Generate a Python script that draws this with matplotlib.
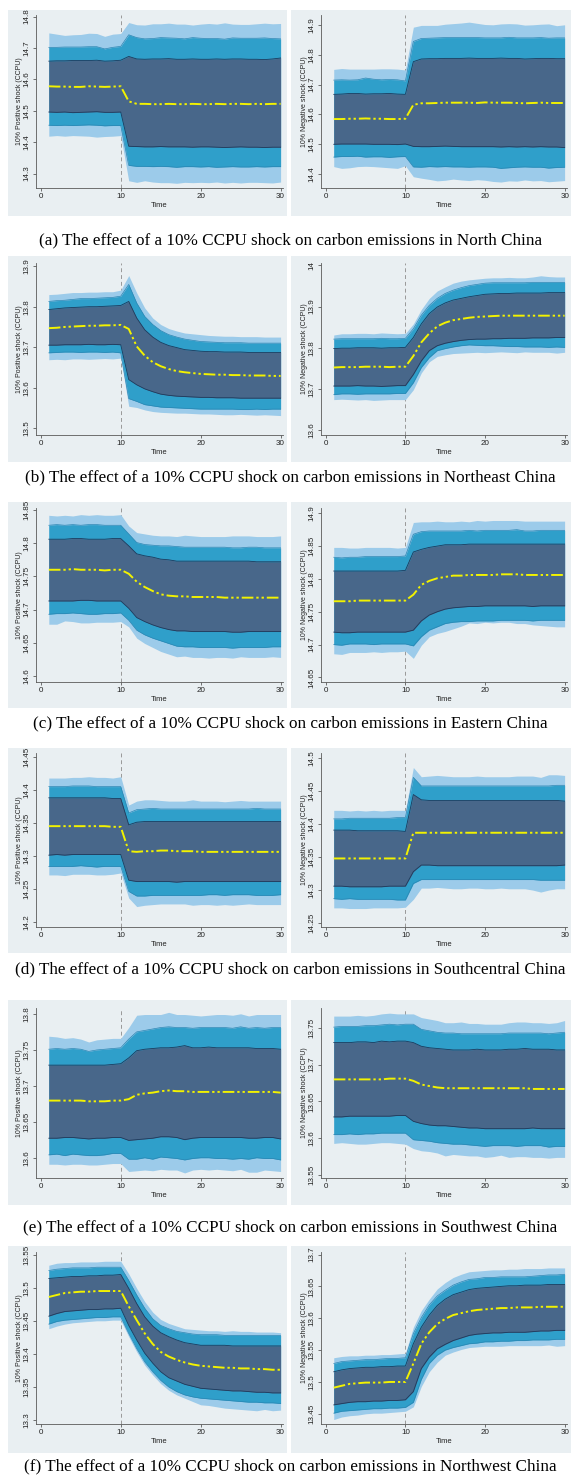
import matplotlib
matplotlib.use("Agg")
import matplotlib.pyplot as plt
from matplotlib.patches import Rectangle

plt.rcParams["font.family"] = ["Liberation Sans", "DejaVu Sans"]

W, H = 572, 1482
t = list(range(1, 31))

# ---- data: impulse responses (ln carbon emissions) ----
# bands: out = light, mid = medium, in = dark
north_pos = {
    "irf": [14.578, 14.577, 14.577, 14.576, 14.576, 14.578, 14.577, 14.576, 14.577, 14.578,
            14.530, 14.522, 14.522, 14.521, 14.521, 14.522, 14.521, 14.521, 14.522, 14.521,
            14.521, 14.522, 14.521, 14.522, 14.522, 14.521, 14.522, 14.521, 14.522, 14.522],
    "in_hi": [14.658, 14.659, 14.659, 14.660, 14.660, 14.660, 14.661, 14.658, 14.659, 14.661,
              14.673, 14.665, 14.664, 14.665, 14.665, 14.666, 14.664, 14.664, 14.665, 14.664,
              14.664, 14.665, 14.664, 14.665, 14.665, 14.664, 14.664, 14.663, 14.665, 14.668],
    "in_lo": [14.496, 14.495, 14.496, 14.494, 14.495, 14.496, 14.497, 14.495, 14.495, 14.496,
              14.387, 14.386, 14.385, 14.385, 14.386, 14.385, 14.385, 14.385, 14.384, 14.385,
              14.385, 14.384, 14.383, 14.384, 14.385, 14.384, 14.384, 14.383, 14.384, 14.384],
    "mid_hi": [14.702, 14.702, 14.703, 14.703, 14.703, 14.704, 14.704, 14.697, 14.702, 14.705,
               14.742, 14.733, 14.729, 14.730, 14.733, 14.732, 14.731, 14.729, 14.733, 14.731,
               14.730, 14.730, 14.728, 14.732, 14.731, 14.731, 14.731, 14.732, 14.730, 14.729],
    "mid_lo": [14.454, 14.453, 14.454, 14.453, 14.454, 14.455, 14.454, 14.452, 14.453, 14.453,
               14.326, 14.323, 14.323, 14.322, 14.323, 14.322, 14.320, 14.322, 14.322, 14.321,
               14.322, 14.320, 14.321, 14.322, 14.321, 14.321, 14.322, 14.321, 14.322, 14.322],
    "out_hi": [14.748, 14.744, 14.740, 14.742, 14.743, 14.747, 14.746, 14.737, 14.744, 14.746,
               14.781, 14.774, 14.773, 14.777, 14.777, 14.779, 14.776, 14.776, 14.773, 14.776,
               14.778, 14.776, 14.780, 14.776, 14.775, 14.775, 14.777, 14.779, 14.777, 14.778],
    "out_lo": [14.419, 14.421, 14.419, 14.421, 14.420, 14.419, 14.416, 14.418, 14.419, 14.421,
               14.277, 14.272, 14.277, 14.273, 14.271, 14.271, 14.269, 14.272, 14.271, 14.272,
               14.271, 14.273, 14.270, 14.272, 14.270, 14.272, 14.272, 14.271, 14.270, 14.273],
}
north_neg = {
    "irf": [14.584, 14.584, 14.585, 14.585, 14.586, 14.585, 14.585, 14.584, 14.584, 14.585,
            14.632, 14.637, 14.637, 14.638, 14.639, 14.639, 14.639, 14.639, 14.638, 14.640,
            14.639, 14.639, 14.639, 14.638, 14.637, 14.638, 14.639, 14.638, 14.638, 14.638],
    "in_hi": [14.667, 14.668, 14.670, 14.670, 14.668, 14.669, 14.669, 14.670, 14.668, 14.667,
              14.777, 14.786, 14.787, 14.787, 14.788, 14.788, 14.788, 14.789, 14.788, 14.788,
              14.788, 14.789, 14.788, 14.788, 14.786, 14.787, 14.788, 14.788, 14.787, 14.787],
    "in_lo": [14.499, 14.500, 14.500, 14.500, 14.500, 14.499, 14.499, 14.499, 14.498, 14.500,
              14.492, 14.491, 14.491, 14.492, 14.493, 14.492, 14.491, 14.491, 14.491, 14.491,
              14.491, 14.490, 14.491, 14.490, 14.491, 14.490, 14.491, 14.490, 14.490, 14.488],
    "mid_hi": [14.715, 14.716, 14.715, 14.716, 14.722, 14.718, 14.716, 14.717, 14.716, 14.712,
               14.845, 14.855, 14.856, 14.857, 14.858, 14.858, 14.858, 14.858, 14.858, 14.857,
               14.857, 14.857, 14.859, 14.857, 14.857, 14.857, 14.858, 14.856, 14.857, 14.857],
    "mid_lo": [14.456, 14.458, 14.458, 14.459, 14.456, 14.457, 14.457, 14.455, 14.457, 14.458,
               14.423, 14.422, 14.424, 14.423, 14.424, 14.423, 14.423, 14.422, 14.423, 14.423,
               14.422, 14.418, 14.420, 14.422, 14.423, 14.422, 14.422, 14.419, 14.421, 14.422],
    "out_hi": [14.751, 14.754, 14.752, 14.752, 14.752, 14.752, 14.753, 14.753, 14.752, 14.749,
               14.893, 14.899, 14.899, 14.899, 14.903, 14.905, 14.907, 14.910, 14.906, 14.902,
               14.901, 14.904, 14.905, 14.904, 14.900, 14.901, 14.903, 14.904, 14.898, 14.901],
    "out_lo": [14.424, 14.418, 14.420, 14.424, 14.425, 14.424, 14.422, 14.420, 14.418, 14.427,
               14.390, 14.385, 14.381, 14.376, 14.378, 14.382, 14.379, 14.377, 14.380, 14.378,
               14.374, 14.372, 14.376, 14.375, 14.379, 14.376, 14.377, 14.373, 14.375, 14.377],
}
northeast_pos = {
    "irf": [13.747, 13.748, 13.750, 13.751, 13.752, 13.753, 13.753, 13.754, 13.754, 13.755,
            13.745, 13.702, 13.679, 13.663, 13.653, 13.646, 13.641, 13.638, 13.636, 13.634,
            13.633, 13.632, 13.632, 13.631, 13.631, 13.630, 13.630, 13.630, 13.629, 13.629],
    "in_hi": [13.793, 13.795, 13.797, 13.798, 13.799, 13.800, 13.800, 13.801, 13.802, 13.803,
              13.813, 13.772, 13.743, 13.725, 13.712, 13.704, 13.699, 13.694, 13.692, 13.690,
              13.689, 13.689, 13.688, 13.688, 13.688, 13.687, 13.687, 13.687, 13.687, 13.687],
    "in_lo": [13.705, 13.705, 13.706, 13.706, 13.706, 13.707, 13.706, 13.706, 13.707, 13.706,
              13.620, 13.607, 13.597, 13.590, 13.584, 13.581, 13.579, 13.578, 13.577, 13.576,
              13.576, 13.575, 13.575, 13.575, 13.574, 13.574, 13.574, 13.574, 13.574, 13.574],
    "mid_hi": [13.813, 13.815, 13.816, 13.818, 13.820, 13.820, 13.821, 13.822, 13.823, 13.826,
               13.855, 13.809, 13.776, 13.756, 13.741, 13.731, 13.725, 13.720, 13.717, 13.714,
               13.713, 13.712, 13.711, 13.711, 13.711, 13.710, 13.710, 13.710, 13.710, 13.710],
    "mid_lo": [13.686, 13.687, 13.688, 13.688, 13.687, 13.688, 13.688, 13.687, 13.688, 13.686,
               13.573, 13.566, 13.558, 13.555, 13.552, 13.551, 13.550, 13.549, 13.548, 13.547,
               13.547, 13.547, 13.547, 13.547, 13.546, 13.546, 13.547, 13.546, 13.547, 13.547],
    "out_hi": [13.830, 13.831, 13.833, 13.835, 13.835, 13.836, 13.836, 13.837, 13.837, 13.841,
               13.877, 13.834, 13.797, 13.772, 13.756, 13.746, 13.740, 13.735, 13.733, 13.731,
               13.729, 13.728, 13.727, 13.727, 13.726, 13.726, 13.726, 13.725, 13.725, 13.725],
    "out_lo": [13.669, 13.670, 13.669, 13.671, 13.671, 13.670, 13.671, 13.672, 13.671, 13.673,
               13.554, 13.551, 13.545, 13.541, 13.539, 13.538, 13.537, 13.537, 13.536, 13.535,
               13.535, 13.534, 13.533, 13.533, 13.534, 13.533, 13.532, 13.533, 13.532, 13.531],
}
northeast_neg = {
    "irf": [13.752, 13.753, 13.753, 13.753, 13.754, 13.754, 13.754, 13.753, 13.754, 13.754,
            13.780, 13.813, 13.835, 13.852, 13.861, 13.867, 13.870, 13.873, 13.875, 13.876,
            13.877, 13.878, 13.878, 13.878, 13.878, 13.878, 13.878, 13.878, 13.878, 13.878],
    "in_hi": [13.798, 13.799, 13.799, 13.800, 13.800, 13.800, 13.799, 13.800, 13.800, 13.801,
              13.825, 13.858, 13.883, 13.899, 13.909, 13.916, 13.920, 13.924, 13.927, 13.930,
              13.931, 13.932, 13.932, 13.933, 13.933, 13.933, 13.933, 13.934, 13.934, 13.934],
    "in_lo": [13.707, 13.707, 13.707, 13.708, 13.707, 13.707, 13.706, 13.707, 13.708, 13.708,
              13.735, 13.768, 13.793, 13.805, 13.811, 13.815, 13.818, 13.820, 13.821, 13.821,
              13.822, 13.822, 13.823, 13.823, 13.823, 13.824, 13.824, 13.824, 13.825, 13.825],
    "mid_hi": [13.821, 13.822, 13.822, 13.822, 13.822, 13.822, 13.823, 13.822, 13.822, 13.823,
               13.846, 13.879, 13.903, 13.920, 13.932, 13.940, 13.946, 13.951, 13.954, 13.957,
               13.958, 13.958, 13.958, 13.958, 13.958, 13.959, 13.959, 13.959, 13.959, 13.959],
    "mid_lo": [13.686, 13.688, 13.688, 13.687, 13.688, 13.688, 13.688, 13.688, 13.689, 13.689,
               13.715, 13.752, 13.776, 13.793, 13.798, 13.802, 13.805, 13.807, 13.806, 13.805,
               13.805, 13.804, 13.803, 13.803, 13.802, 13.802, 13.802, 13.801, 13.802, 13.801],
    "out_hi": [13.831, 13.834, 13.834, 13.835, 13.835, 13.834, 13.836, 13.835, 13.834, 13.835,
               13.858, 13.893, 13.920, 13.938, 13.948, 13.957, 13.962, 13.965, 13.967, 13.969,
               13.970, 13.970, 13.971, 13.970, 13.970, 13.972, 13.975, 13.973, 13.972, 13.972],
    "out_lo": [13.674, 13.675, 13.674, 13.673, 13.674, 13.672, 13.673, 13.674, 13.674, 13.674,
               13.698, 13.739, 13.766, 13.779, 13.783, 13.786, 13.787, 13.788, 13.789, 13.788,
               13.789, 13.790, 13.789, 13.788, 13.790, 13.789, 13.789, 13.789, 13.787, 13.789],
}
eastern_pos = {
    "irf": [14.760, 14.760, 14.760, 14.761, 14.760, 14.760, 14.760, 14.759, 14.760, 14.760,
            14.754, 14.742, 14.734, 14.728, 14.723, 14.721, 14.720, 14.720, 14.719, 14.719,
            14.719, 14.719, 14.718, 14.718, 14.718, 14.718, 14.718, 14.718, 14.718, 14.718],
    "in_hi": [14.806, 14.806, 14.806, 14.807, 14.807, 14.806, 14.806, 14.806, 14.807, 14.807,
              14.796, 14.784, 14.781, 14.779, 14.776, 14.775, 14.773, 14.773, 14.773, 14.773,
              14.773, 14.773, 14.773, 14.773, 14.773, 14.773, 14.772, 14.772, 14.772, 14.772],
    "in_lo": [14.713, 14.713, 14.713, 14.713, 14.714, 14.714, 14.713, 14.713, 14.713, 14.713,
              14.702, 14.688, 14.682, 14.677, 14.673, 14.670, 14.668, 14.668, 14.667, 14.667,
              14.667, 14.667, 14.667, 14.666, 14.666, 14.667, 14.667, 14.667, 14.667, 14.667],
    "mid_hi": [14.827, 14.828, 14.827, 14.828, 14.827, 14.828, 14.828, 14.827, 14.827, 14.827,
               14.814, 14.801, 14.798, 14.797, 14.796, 14.796, 14.795, 14.794, 14.794, 14.794,
               14.794, 14.794, 14.794, 14.793, 14.793, 14.794, 14.794, 14.793, 14.793, 14.793],
    "mid_lo": [14.693, 14.694, 14.694, 14.695, 14.694, 14.693, 14.693, 14.694, 14.694, 14.695,
               14.684, 14.669, 14.662, 14.657, 14.653, 14.649, 14.645, 14.644, 14.644, 14.643,
               14.643, 14.643, 14.643, 14.642, 14.643, 14.643, 14.643, 14.643, 14.644, 14.644],
    "out_hi": [14.842, 14.841, 14.842, 14.841, 14.843, 14.842, 14.843, 14.842, 14.842, 14.843,
               14.826, 14.816, 14.814, 14.812, 14.811, 14.811, 14.810, 14.812, 14.811, 14.810,
               14.810, 14.810, 14.810, 14.811, 14.811, 14.811, 14.810, 14.810, 14.810, 14.811],
    "out_lo": [14.678, 14.678, 14.683, 14.682, 14.680, 14.680, 14.681, 14.681, 14.681, 14.682,
               14.674, 14.657, 14.649, 14.643, 14.637, 14.633, 14.629, 14.630, 14.628, 14.628,
               14.627, 14.628, 14.628, 14.627, 14.629, 14.628, 14.628, 14.628, 14.629, 14.628],
}
eastern_neg = {
    "irf": [14.766, 14.766, 14.766, 14.767, 14.767, 14.767, 14.767, 14.767, 14.767, 14.767,
            14.776, 14.791, 14.797, 14.801, 14.803, 14.805, 14.805, 14.806, 14.806, 14.806,
            14.806, 14.807, 14.807, 14.807, 14.806, 14.806, 14.806, 14.806, 14.806, 14.806],
    "in_hi": [14.812, 14.812, 14.812, 14.812, 14.812, 14.812, 14.812, 14.812, 14.812, 14.813,
              14.841, 14.845, 14.848, 14.850, 14.852, 14.852, 14.852, 14.853, 14.853, 14.853,
              14.853, 14.853, 14.853, 14.853, 14.853, 14.853, 14.853, 14.853, 14.853, 14.853],
    "in_lo": [14.719, 14.718, 14.718, 14.719, 14.719, 14.719, 14.719, 14.719, 14.719, 14.719,
              14.722, 14.736, 14.745, 14.750, 14.754, 14.756, 14.757, 14.758, 14.758, 14.759,
              14.759, 14.759, 14.759, 14.759, 14.759, 14.758, 14.759, 14.759, 14.759, 14.759],
    "mid_hi": [14.833, 14.832, 14.833, 14.833, 14.834, 14.834, 14.834, 14.834, 14.834, 14.835,
               14.868, 14.872, 14.873, 14.873, 14.873, 14.873, 14.873, 14.874, 14.873, 14.874,
               14.874, 14.874, 14.874, 14.875, 14.873, 14.873, 14.874, 14.874, 14.874, 14.874],
    "mid_lo": [14.700, 14.699, 14.701, 14.701, 14.701, 14.700, 14.701, 14.701, 14.701, 14.701,
               14.698, 14.712, 14.722, 14.727, 14.732, 14.734, 14.735, 14.735, 14.736, 14.736,
               14.736, 14.737, 14.737, 14.737, 14.737, 14.736, 14.737, 14.737, 14.737, 14.737],
    "out_hi": [14.848, 14.848, 14.847, 14.847, 14.848, 14.848, 14.848, 14.848, 14.847, 14.848,
               14.886, 14.887, 14.887, 14.888, 14.887, 14.887, 14.888, 14.887, 14.889, 14.888,
               14.889, 14.889, 14.889, 14.889, 14.888, 14.888, 14.888, 14.888, 14.888, 14.888],
    "out_lo": [14.686, 14.685, 14.688, 14.688, 14.688, 14.689, 14.688, 14.689, 14.689, 14.690,
               14.679, 14.699, 14.712, 14.717, 14.720, 14.724, 14.728, 14.733, 14.732, 14.734,
               14.733, 14.734, 14.734, 14.732, 14.732, 14.730, 14.729, 14.728, 14.727, 14.727],
}
southcentral_pos = {
    "irf": [14.345, 14.345, 14.345, 14.345, 14.345, 14.345, 14.345, 14.345, 14.344, 14.344,
            14.307, 14.306, 14.307, 14.307, 14.308, 14.308, 14.307, 14.307, 14.307, 14.306,
            14.306, 14.306, 14.306, 14.306, 14.306, 14.306, 14.306, 14.306, 14.306, 14.306],
    "in_hi": [14.388, 14.388, 14.388, 14.388, 14.388, 14.388, 14.388, 14.388, 14.387, 14.387,
              14.347, 14.351, 14.352, 14.352, 14.352, 14.352, 14.352, 14.352, 14.352, 14.352,
              14.352, 14.352, 14.352, 14.352, 14.352, 14.352, 14.352, 14.352, 14.352, 14.352],
    "in_lo": [14.301, 14.302, 14.301, 14.302, 14.302, 14.302, 14.302, 14.302, 14.302, 14.302,
              14.263, 14.261, 14.261, 14.261, 14.261, 14.261, 14.260, 14.261, 14.261, 14.261,
              14.261, 14.261, 14.261, 14.261, 14.261, 14.261, 14.261, 14.261, 14.261, 14.261],
    "mid_hi": [14.405, 14.405, 14.405, 14.406, 14.406, 14.406, 14.405, 14.405, 14.405, 14.405,
               14.365, 14.370, 14.371, 14.372, 14.371, 14.371, 14.371, 14.371, 14.371, 14.371,
               14.371, 14.371, 14.371, 14.371, 14.371, 14.371, 14.372, 14.371, 14.371, 14.371],
    "mid_lo": [14.284, 14.284, 14.284, 14.284, 14.285, 14.284, 14.283, 14.284, 14.284, 14.284,
               14.246, 14.239, 14.239, 14.240, 14.240, 14.240, 14.240, 14.240, 14.240, 14.240,
               14.241, 14.241, 14.240, 14.241, 14.241, 14.241, 14.240, 14.240, 14.240, 14.241],
    "out_hi": [14.418, 14.418, 14.418, 14.419, 14.419, 14.420, 14.419, 14.419, 14.418, 14.420,
               14.377, 14.383, 14.385, 14.385, 14.384, 14.383, 14.383, 14.383, 14.385, 14.383,
               14.383, 14.383, 14.382, 14.383, 14.384, 14.383, 14.383, 14.383, 14.383, 14.383],
    "out_lo": [14.271, 14.271, 14.270, 14.272, 14.272, 14.272, 14.271, 14.271, 14.272, 14.274,
               14.236, 14.223, 14.225, 14.226, 14.227, 14.227, 14.227, 14.227, 14.225, 14.226,
               14.226, 14.225, 14.226, 14.225, 14.226, 14.227, 14.226, 14.226, 14.226, 14.226],
}
southcentral_neg = {
    "irf": [14.348, 14.348, 14.348, 14.348, 14.348, 14.348, 14.348, 14.348, 14.348, 14.348,
            14.387, 14.387, 14.387, 14.387, 14.387, 14.387, 14.387, 14.387, 14.387, 14.387,
            14.387, 14.387, 14.387, 14.387, 14.387, 14.387, 14.387, 14.387, 14.387, 14.387],
    "in_hi": [14.391, 14.391, 14.391, 14.390, 14.390, 14.390, 14.390, 14.390, 14.390, 14.389,
              14.445, 14.437, 14.436, 14.436, 14.436, 14.436, 14.436, 14.436, 14.436, 14.436,
              14.436, 14.436, 14.436, 14.436, 14.436, 14.436, 14.436, 14.436, 14.436, 14.435],
    "in_lo": [14.306, 14.306, 14.305, 14.305, 14.305, 14.305, 14.305, 14.306, 14.306, 14.306,
              14.328, 14.338, 14.338, 14.337, 14.337, 14.337, 14.337, 14.337, 14.337, 14.337,
              14.337, 14.337, 14.337, 14.337, 14.337, 14.337, 14.337, 14.337, 14.337, 14.338],
    "mid_hi": [14.408, 14.408, 14.409, 14.409, 14.409, 14.409, 14.409, 14.409, 14.410, 14.410,
               14.471, 14.458, 14.458, 14.458, 14.458, 14.458, 14.458, 14.458, 14.458, 14.458,
               14.458, 14.458, 14.458, 14.458, 14.458, 14.458, 14.458, 14.458, 14.459, 14.459],
    "mid_lo": [14.287, 14.286, 14.287, 14.286, 14.286, 14.286, 14.286, 14.286, 14.285, 14.285,
               14.310, 14.316, 14.316, 14.316, 14.316, 14.316, 14.316, 14.316, 14.316, 14.316,
               14.316, 14.316, 14.316, 14.316, 14.316, 14.316, 14.315, 14.315, 14.315, 14.315],
    "out_hi": [14.421, 14.421, 14.420, 14.421, 14.420, 14.421, 14.420, 14.421, 14.421, 14.421,
               14.486, 14.472, 14.473, 14.474, 14.473, 14.472, 14.472, 14.472, 14.473, 14.472,
               14.472, 14.472, 14.472, 14.473, 14.473, 14.473, 14.471, 14.475, 14.475, 14.474],
    "out_lo": [14.273, 14.273, 14.272, 14.272, 14.272, 14.273, 14.273, 14.273, 14.273, 14.274,
               14.286, 14.303, 14.303, 14.304, 14.303, 14.302, 14.302, 14.303, 14.303, 14.302,
               14.302, 14.303, 14.302, 14.302, 14.302, 14.300, 14.297, 14.300, 14.302, 14.302],
}
southwest_pos = {
    "irf": [13.680, 13.680, 13.680, 13.680, 13.680, 13.679, 13.679, 13.679, 13.680, 13.680,
            13.682, 13.688, 13.690, 13.691, 13.693, 13.694, 13.693, 13.693, 13.692, 13.692,
            13.692, 13.692, 13.692, 13.692, 13.692, 13.692, 13.692, 13.692, 13.692, 13.691],
    "in_hi": [13.729, 13.729, 13.729, 13.729, 13.729, 13.729, 13.729, 13.729, 13.730, 13.731,
              13.739, 13.749, 13.751, 13.752, 13.753, 13.753, 13.754, 13.756, 13.753, 13.753,
              13.754, 13.753, 13.753, 13.753, 13.753, 13.753, 13.752, 13.752, 13.752, 13.751],
    "in_lo": [13.628, 13.628, 13.629, 13.629, 13.628, 13.627, 13.628, 13.628, 13.629, 13.629,
              13.625, 13.626, 13.627, 13.628, 13.630, 13.630, 13.629, 13.626, 13.628, 13.629,
              13.629, 13.629, 13.629, 13.629, 13.629, 13.628, 13.628, 13.629, 13.629, 13.627],
    "mid_hi": [13.751, 13.752, 13.751, 13.752, 13.751, 13.748, 13.750, 13.751, 13.752, 13.753,
               13.765, 13.775, 13.777, 13.779, 13.781, 13.782, 13.781, 13.781, 13.780, 13.781,
               13.781, 13.781, 13.781, 13.780, 13.782, 13.780, 13.781, 13.780, 13.781, 13.781],
    "mid_lo": [13.605, 13.606, 13.604, 13.606, 13.605, 13.604, 13.604, 13.605, 13.607, 13.607,
               13.599, 13.599, 13.601, 13.599, 13.602, 13.601, 13.600, 13.598, 13.600, 13.601,
               13.601, 13.600, 13.600, 13.599, 13.600, 13.599, 13.601, 13.600, 13.600, 13.598],
    "out_hi": [13.769, 13.768, 13.766, 13.767, 13.765, 13.761, 13.764, 13.765, 13.766, 13.766,
               13.781, 13.798, 13.799, 13.799, 13.799, 13.802, 13.799, 13.799, 13.798, 13.797,
               13.798, 13.799, 13.799, 13.798, 13.800, 13.797, 13.799, 13.799, 13.799, 13.799],
    "out_lo": [13.592, 13.592, 13.591, 13.592, 13.592, 13.591, 13.591, 13.592, 13.593, 13.593,
               13.582, 13.583, 13.584, 13.583, 13.585, 13.584, 13.584, 13.580, 13.584, 13.585,
               13.584, 13.585, 13.584, 13.583, 13.585, 13.581, 13.581, 13.584, 13.583, 13.582],
}
southwest_neg = {
    "irf": [13.680, 13.680, 13.680, 13.680, 13.680, 13.680, 13.680, 13.681, 13.681, 13.681,
            13.678, 13.673, 13.671, 13.669, 13.668, 13.668, 13.668, 13.668, 13.668, 13.668,
            13.668, 13.668, 13.668, 13.668, 13.668, 13.667, 13.667, 13.667, 13.667, 13.667],
    "in_hi": [13.730, 13.730, 13.730, 13.731, 13.731, 13.730, 13.732, 13.731, 13.732, 13.732,
              13.730, 13.725, 13.723, 13.722, 13.721, 13.720, 13.720, 13.720, 13.721, 13.720,
              13.720, 13.720, 13.721, 13.721, 13.722, 13.721, 13.721, 13.721, 13.720, 13.720],
    "in_lo": [13.629, 13.629, 13.630, 13.630, 13.630, 13.630, 13.630, 13.630, 13.631, 13.631,
              13.623, 13.620, 13.618, 13.617, 13.617, 13.616, 13.615, 13.614, 13.614, 13.613,
              13.613, 13.613, 13.613, 13.613, 13.613, 13.614, 13.613, 13.613, 13.613, 13.613],
    "mid_hi": [13.751, 13.752, 13.752, 13.752, 13.753, 13.753, 13.754, 13.755, 13.754, 13.755,
               13.755, 13.748, 13.746, 13.744, 13.743, 13.743, 13.742, 13.742, 13.742, 13.742,
               13.742, 13.742, 13.743, 13.743, 13.743, 13.743, 13.743, 13.742, 13.743, 13.744],
    "mid_lo": [13.605, 13.605, 13.606, 13.605, 13.606, 13.606, 13.607, 13.607, 13.607, 13.607,
               13.598, 13.597, 13.596, 13.594, 13.593, 13.592, 13.592, 13.591, 13.590, 13.589,
               13.590, 13.590, 13.590, 13.589, 13.590, 13.590, 13.590, 13.588, 13.589, 13.589],
    "out_hi": [13.766, 13.766, 13.766, 13.767, 13.766, 13.767, 13.769, 13.770, 13.769, 13.769,
               13.769, 13.764, 13.762, 13.760, 13.757, 13.757, 13.758, 13.756, 13.756, 13.755,
               13.755, 13.755, 13.757, 13.758, 13.758, 13.757, 13.757, 13.756, 13.757, 13.760],
    "out_lo": [13.593, 13.594, 13.593, 13.592, 13.592, 13.593, 13.594, 13.594, 13.593, 13.592,
               13.586, 13.583, 13.582, 13.580, 13.576, 13.578, 13.577, 13.576, 13.576, 13.574,
               13.575, 13.577, 13.574, 13.575, 13.575, 13.574, 13.574, 13.573, 13.574, 13.574],
}
northwest_pos = {
    "irf": [13.486, 13.489, 13.492, 13.493, 13.494, 13.494, 13.495, 13.495, 13.495, 13.495,
            13.472, 13.451, 13.431, 13.415, 13.403, 13.396, 13.391, 13.387, 13.384, 13.382,
            13.381, 13.380, 13.379, 13.379, 13.378, 13.378, 13.377, 13.377, 13.376, 13.376],
    "in_hi": [13.514, 13.515, 13.516, 13.517, 13.517, 13.518, 13.518, 13.519, 13.519, 13.520,
              13.499, 13.476, 13.456, 13.442, 13.432, 13.426, 13.421, 13.417, 13.415, 13.413,
              13.413, 13.413, 13.413, 13.412, 13.412, 13.412, 13.412, 13.412, 13.412, 13.412],
    "in_lo": [13.457, 13.461, 13.464, 13.465, 13.466, 13.467, 13.467, 13.468, 13.468, 13.469,
              13.443, 13.421, 13.401, 13.386, 13.373, 13.364, 13.359, 13.354, 13.351, 13.348,
              13.347, 13.346, 13.345, 13.344, 13.344, 13.343, 13.342, 13.342, 13.341, 13.341],
    "mid_hi": [13.526, 13.528, 13.529, 13.530, 13.530, 13.530, 13.531, 13.531, 13.531, 13.531,
               13.511, 13.489, 13.469, 13.453, 13.443, 13.438, 13.434, 13.432, 13.430, 13.429,
               13.429, 13.429, 13.428, 13.428, 13.428, 13.428, 13.428, 13.428, 13.428, 13.428],
    "mid_lo": [13.445, 13.449, 13.451, 13.452, 13.453, 13.454, 13.455, 13.455, 13.456, 13.456,
               13.431, 13.408, 13.388, 13.373, 13.360, 13.350, 13.343, 13.338, 13.335, 13.333,
               13.332, 13.331, 13.330, 13.329, 13.328, 13.327, 13.327, 13.326, 13.326, 13.325],
    "out_hi": [13.534, 13.537, 13.538, 13.538, 13.539, 13.539, 13.539, 13.540, 13.540, 13.540,
               13.521, 13.499, 13.479, 13.463, 13.452, 13.446, 13.442, 13.438, 13.437, 13.436,
               13.435, 13.435, 13.434, 13.435, 13.434, 13.434, 13.433, 13.433, 13.433, 13.432],
    "out_lo": [13.438, 13.442, 13.445, 13.447, 13.448, 13.449, 13.450, 13.450, 13.451, 13.451,
               13.426, 13.403, 13.383, 13.368, 13.355, 13.345, 13.338, 13.333, 13.328, 13.323,
               13.322, 13.320, 13.318, 13.317, 13.316, 13.315, 13.314, 13.316, 13.314, 13.315],
}
northwest_neg = {
    "irf": [13.491, 13.494, 13.497, 13.498, 13.499, 13.499, 13.499, 13.500, 13.500, 13.500,
            13.529, 13.560, 13.578, 13.591, 13.599, 13.605, 13.608, 13.611, 13.613, 13.614,
            13.615, 13.616, 13.616, 13.617, 13.617, 13.617, 13.618, 13.618, 13.618, 13.618],
    "in_hi": [13.516, 13.519, 13.521, 13.522, 13.523, 13.523, 13.524, 13.524, 13.525, 13.525,
              13.560, 13.586, 13.605, 13.620, 13.630, 13.637, 13.641, 13.645, 13.647, 13.648,
              13.649, 13.650, 13.651, 13.651, 13.652, 13.652, 13.652, 13.653, 13.653, 13.653],
    "in_lo": [13.464, 13.466, 13.468, 13.469, 13.469, 13.470, 13.470, 13.471, 13.471, 13.472,
              13.485, 13.521, 13.539, 13.552, 13.559, 13.565, 13.569, 13.573, 13.575, 13.576,
              13.577, 13.577, 13.578, 13.578, 13.578, 13.579, 13.580, 13.580, 13.581, 13.581],
    "mid_hi": [13.529, 13.532, 13.533, 13.534, 13.535, 13.535, 13.536, 13.537, 13.537, 13.538,
               13.576, 13.601, 13.621, 13.635, 13.644, 13.652, 13.657, 13.661, 13.662, 13.664,
               13.664, 13.665, 13.665, 13.665, 13.665, 13.666, 13.667, 13.668, 13.668, 13.669],
    "mid_lo": [13.451, 13.454, 13.455, 13.456, 13.457, 13.458, 13.458, 13.459, 13.459, 13.460,
               13.468, 13.504, 13.529, 13.542, 13.550, 13.554, 13.557, 13.560, 13.561, 13.563,
               13.563, 13.564, 13.564, 13.565, 13.565, 13.566, 13.566, 13.566, 13.567, 13.567],
    "out_hi": [13.538, 13.540, 13.541, 13.541, 13.542, 13.542, 13.543, 13.543, 13.544, 13.545,
               13.586, 13.612, 13.630, 13.646, 13.656, 13.664, 13.669, 13.673, 13.674, 13.675,
               13.676, 13.676, 13.677, 13.677, 13.678, 13.678, 13.678, 13.679, 13.679, 13.679],
    "out_lo": [13.441, 13.445, 13.447, 13.448, 13.450, 13.451, 13.451, 13.452, 13.453, 13.454,
               13.461, 13.493, 13.516, 13.531, 13.542, 13.547, 13.551, 13.554, 13.555, 13.556,
               13.556, 13.556, 13.557, 13.557, 13.557, 13.557, 13.557, 13.558, 13.556, 13.557],
}

regions = ["North", "Northeast", "Eastern", "Southcentral", "Southwest", "Northwest"]
letters = ["a", "b", "c", "d", "e", "f"]
pos_panels = [north_pos, northeast_pos, eastern_pos, southcentral_pos, southwest_pos, northwest_pos]
neg_panels = [north_neg, northeast_neg, eastern_neg, southcentral_neg, southwest_neg, northwest_neg]

pos_yticks = [
    [14.3, 14.4, 14.5, 14.6, 14.7, 14.8],
    [13.5, 13.6, 13.7, 13.8, 13.9],
    [14.6, 14.65, 14.7, 14.75, 14.8, 14.85],
    [14.2, 14.25, 14.3, 14.35, 14.4, 14.45],
    [13.6, 13.65, 13.7, 13.75, 13.8],
    [13.3, 13.35, 13.4, 13.45, 13.5, 13.55],
]
neg_yticks = [
    [14.4, 14.5, 14.6, 14.7, 14.8, 14.9],
    [13.6, 13.7, 13.8, 13.9, 14],
    [14.65, 14.7, 14.75, 14.8, 14.85, 14.9],
    [14.25, 14.3, 14.35, 14.4, 14.45, 14.5],
    [13.55, 13.6, 13.65, 13.7, 13.75],
    [13.45, 13.5, 13.55, 13.6, 13.65, 13.7],
]
pos_ylim = [(14.254, 14.805), (13.483, 13.908), (14.591, 14.853),
            (14.192, 14.456), (13.573, 13.808), (13.294, 13.554)]
neg_ylim = [(14.352, 14.934), (13.588, 14.006), (14.643, 14.908),
            (14.244, 14.508), (13.546, 13.777), (13.434, 13.704)]

# ---- layout (pixels) ----
row_axis_bottom = [188, 435, 682, 927, 1178, 1424]
row_axis_top = [15, 263, 508, 753, 1008, 1252]
row_box = [(10, 216), (256, 462), (502, 708), (748, 953), (1000, 1205), (1246, 1453)]
row_caption = [240, 477, 723, 969, 1227, 1466]

BG = "#e9eff2"
LIGHT = "#9ccbea"
MID = "#2f9fca"
DARK = "#48678a"
EDGE_DARK = "#1e3a5c"
EDGE_MID = "#2a86b3"
AXCOL = "#5a5a5a"

fig = plt.figure(figsize=(W / 100, H / 100), dpi=100)
fig.patch.set_facecolor("white")


def fx(px):
    return px / W


def fy(py):
    return 1 - py / H


def draw_panel(ax, d, yticks, ylim, ylabel):
    ax.set_facecolor("none")
    ax.axvline(10, color="#999999", lw=0.7, ls=(0, (4, 3)), zorder=0)
    ax.fill_between(t, d["out_lo"], d["out_hi"], color=LIGHT, lw=0, zorder=1)
    ax.fill_between(t, d["mid_lo"], d["mid_hi"], color=MID, lw=0, zorder=2)
    for k in ("mid_lo", "mid_hi"):
        ax.plot(t, d[k], color=EDGE_MID, lw=0.5, zorder=2)
    ax.fill_between(t, d["in_lo"], d["in_hi"], color=DARK, lw=0, zorder=3)
    for k in ("in_lo", "in_hi"):
        ax.plot(t, d[k], color=EDGE_DARK, lw=0.6, zorder=3)
    ax.plot(t, d["irf"], color="#f2f200", lw=1.4,
            ls=(0, (6, 1.5, 1.2, 1.5, 1.2, 1.5)), zorder=4)
    ax.set_xlim(-0.6, 30.3)
    ax.set_ylim(*ylim)
    ax.set_xticks([0, 10, 20, 30])
    ax.set_yticks(yticks)
    ax.set_yticklabels(["%g" % v for v in yticks], rotation=90, va="center")
    for s in ("top", "right"):
        ax.spines[s].set_visible(False)
    for s in ("left", "bottom"):
        ax.spines[s].set_color(AXCOL)
        ax.spines[s].set_linewidth(0.6)
    ax.tick_params(colors=AXCOL, labelcolor="#222222", labelsize=5.8,
                   length=2.5, width=0.6, pad=1.2)
    ax.set_xlabel("Time", fontsize=5.5, labelpad=1.2, color="#222222")
    ax.set_ylabel(ylabel, fontsize=5, labelpad=0.8, color="#222222")


# grey panel boxes behind the axes
for i in range(6):
    b0, b1 = row_box[i]
    for (x0, x1) in [(8, 287), (291, 571)]:
        fig.patches.append(Rectangle((fx(x0), fy(b1)), fx(x1 - x0), (b1 - b0) / H,
                                     transform=fig.transFigure, facecolor=BG,
                                     edgecolor="none", zorder=-10))

for i in range(6):
    ab, at = row_axis_bottom[i], row_axis_top[i]
    axl = fig.add_axes([fx(36), fy(ab), fx(283 - 36), (ab - at) / H])
    draw_panel(axl, pos_panels[i], pos_yticks[i], pos_ylim[i], "10% Positive shock (CCPU)")
    axr = fig.add_axes([fx(321), fy(ab), fx(567 - 321), (ab - at) / H])
    draw_panel(axr, neg_panels[i], neg_yticks[i], neg_ylim[i], "10% Negative shock (CCPU)")
    fig.text(0.508, fy(row_caption[i]),
             "(%s) The effect of a 10%% CCPU shock on carbon emissions in %s China"
             % (letters[i], regions[i]),
             ha="center", va="center", fontsize=12.3, family="Liberation Serif")

fig.savefig("out.png", dpi=100, facecolor="white")
